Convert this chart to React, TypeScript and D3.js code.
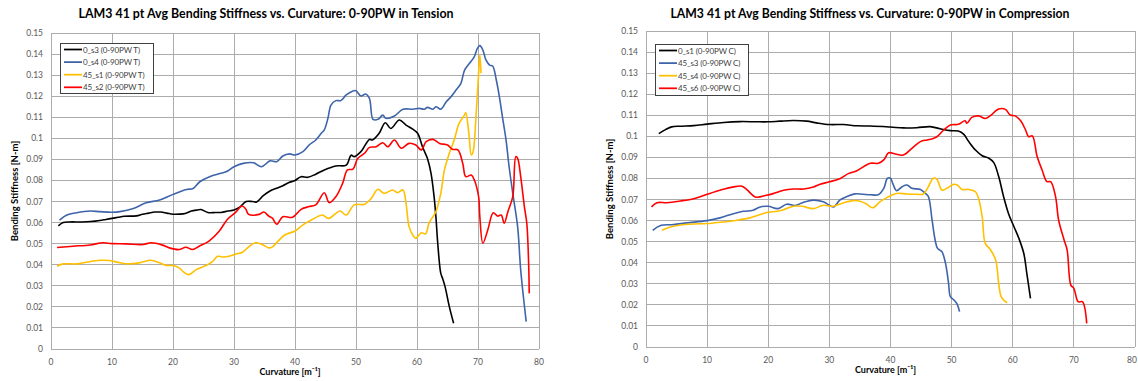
import * as d3 from "d3"

// axis ticks shared by both charts
const xTicks = [0, 10, 20, 30, 40, 50, 60, 70, 80]
const yTicks = [0, 0.01, 0.02, 0.03, 0.04, 0.05, 0.06, 0.07, 0.08, 0.09, 0.1, 0.11, 0.12, 0.13, 0.14, 0.15]
const yTickLabels = ["0", "0.01", "0.02", "0.03", "0.04", "0.05", "0.06", "0.07", "0.08", "0.09", "0.1", "0.11", "0.12", "0.13", "0.14", "0.15"]

type Pt = [number, number]

// Tension (left chart)
const t0s3: Pt[] = [[1.2,0.0585],[2,0.060],[3,0.0603],[5,0.0603],[6.5,0.0605],[8,0.061],[9,0.0615],[10,0.062],[11,0.0625],[12,0.063],[14,0.0632],[15,0.064],[16,0.0645],[17,0.065],[18,0.065],[19,0.0645],[20,0.064],[21,0.064],[22,0.0643],[23,0.0655],[24,0.066],[24.6,0.0662],[25.7,0.0648],[27,0.0648],[27.9,0.0648],[29,0.0655],[30,0.066],[31,0.0675],[32,0.070],[33,0.070],[33.7,0.0698],[34.8,0.0728],[35.9,0.075],[37,0.0763],[38,0.0775],[39,0.079],[40,0.080],[41,0.0818],[42.1,0.0815],[43.4,0.083],[44.8,0.085],[46.7,0.0869],[48.4,0.0873],[49.2,0.092],[49.7,0.0913],[50.8,0.0937],[52.2,0.0995],[52.7,0.0992],[53.8,0.1024],[54.8,0.1074],[55.7,0.1047],[57.1,0.1087],[58.2,0.1063],[59.3,0.1044],[60.1,0.1024],[60.9,0.096],[61.7,0.0905],[62.3,0.0834],[62.8,0.0723],[63.1,0.0628],[63.4,0.0502],[63.9,0.0359],[64.2,0.0335],[64.6,0.0296],[65.3,0.0201],[66,0.0122]]
const t0s4: Pt[] = [[1.4,0.0612],[2.6,0.0636],[4.2,0.0647],[6.4,0.0655],[8,0.0652],[10,0.0649],[11.3,0.0652],[13.5,0.0667],[15.6,0.0694],[17.8,0.0707],[20,0.0734],[22.2,0.0757],[23.3,0.0762],[24.4,0.0794],[26,0.0818],[27.7,0.0833],[28.7,0.0841],[30,0.0865],[31.5,0.0881],[33.2,0.0884],[34.5,0.0865],[35.9,0.0893],[37,0.0889],[38,0.0916],[39.1,0.0926],[40,0.0921],[41.3,0.0937],[42.3,0.0968],[43.4,0.0992],[44.3,0.1024],[44.8,0.104],[45.4,0.1095],[45.9,0.1158],[46.7,0.1179],[47.5,0.1179],[48.4,0.1206],[49.5,0.1225],[50,0.1226],[50.8,0.1201],[51.6,0.121],[52.2,0.119],[52.8,0.109],[53.6,0.109],[54.4,0.111],[54.9,0.1095],[56.3,0.1106],[57.7,0.1138],[59.3,0.1138],[60.4,0.1142],[61.2,0.1138],[61.7,0.1147],[62.6,0.1138],[63.1,0.115],[63.9,0.1138],[64.8,0.1174],[65.6,0.1198],[66.4,0.1229],[67.2,0.1261],[67.8,0.1324],[68.6,0.1356],[69.4,0.1388],[69.9,0.1427],[70.3,0.144],[70.8,0.1419],[71.3,0.1372],[71.9,0.1348],[72.4,0.1343],[73,0.1277],[73.5,0.1198],[74,0.1103],[74.6,0.0992],[75.1,0.0865],[75.7,0.0739],[76.5,0.058],[77,0.0375],[77.9,0.013]]
const t45s1: Pt[] = [[1,0.0393],[2,0.0404],[4.2,0.0404],[5.8,0.0412],[8,0.0421],[9.6,0.042],[11.3,0.0409],[12.3,0.0405],[14.5,0.0409],[16.4,0.0421],[17.8,0.0409],[18.9,0.0397],[20,0.0396],[21,0.0385],[21.8,0.0364],[22.6,0.0353],[23.8,0.0377],[25.4,0.0396],[26.5,0.0416],[27.3,0.044],[28.1,0.0437],[29.2,0.044],[30.3,0.0451],[31.4,0.0459],[32.4,0.0485],[33.5,0.0504],[34.6,0.0496],[35.7,0.048],[36.3,0.0485],[37,0.0505],[38.3,0.0541],[40,0.056],[41.3,0.0589],[42.9,0.0616],[44.5,0.0636],[45.5,0.062],[46.7,0.0644],[47.4,0.0655],[48.4,0.0636],[49.7,0.0684],[51.4,0.0687],[52.5,0.0715],[53.6,0.0758],[54.6,0.0739],[56,0.0755],[56.8,0.0742],[57.7,0.0755],[58.2,0.0691],[58.7,0.0581],[59.3,0.0541],[59.8,0.0525],[60.7,0.0552],[61.4,0.0546],[62,0.06],[63.1,0.0652],[63.9,0.0739],[64.5,0.085],[65.3,0.0929],[66.1,0.0992],[66.9,0.1071],[67.8,0.1111],[68,0.1122],[68.5,0.1024],[68.9,0.0921],[69.2,0.0937],[69.7,0.1119],[70.1,0.1309],[70.3,0.1396],[70.5,0.1309]]
const t45s2: Pt[] = [[1,0.0482],[3.6,0.0488],[6.4,0.0494],[8.5,0.0504],[10,0.05],[12.3,0.0499],[15.1,0.0496],[16.4,0.0504],[18.3,0.0493],[19.4,0.048],[21,0.0472],[22.1,0.0483],[23.2,0.0472],[24.3,0.0488],[25.9,0.0512],[27.6,0.056],[28.9,0.0615],[30.3,0.065],[31.3,0.0679],[31.9,0.0666],[32.4,0.0639],[34.1,0.0639],[34.9,0.065],[35.7,0.0631],[36.3,0.0621],[37,0.0592],[38,0.0628],[39.6,0.0625],[41,0.0663],[42.3,0.0676],[43.4,0.0684],[44.8,0.0742],[45.6,0.0695],[46.7,0.0723],[47.8,0.0786],[48.6,0.085],[49.5,0.0854],[50.3,0.0905],[51.4,0.0929],[52.2,0.0957],[53.3,0.096],[54.4,0.0979],[55.2,0.096],[56.3,0.0992],[57.4,0.0953],[58.7,0.0976],[59.8,0.0968],[60.7,0.0945],[61.5,0.0984],[62.6,0.0995],[63.7,0.0976],[65,0.0968],[65.8,0.0948],[66.7,0.0945],[67.5,0.0881],[68,0.0818],[68.9,0.0826],[69.4,0.0802],[70.1,0.0723],[70.3,0.0628],[70.8,0.0502],[71.6,0.0565],[72.5,0.0647],[73.2,0.0631],[73.8,0.0636],[74.3,0.0597],[74.9,0.0652],[75.7,0.0723],[76.2,0.0913],[76.5,0.0905],[77,0.0818],[77.6,0.0676],[78,0.0597],[78.3,0.0407],[78.4,0.0264]]

// Compression (right chart)
const c0s1: Pt[] = [[2.1,0.1013],[3.2,0.1032],[4.2,0.1045],[5.6,0.1048],[7.8,0.1051],[10,0.1058],[12.7,0.1066],[15.4,0.107],[18.1,0.1069],[20,0.1069],[21.9,0.1072],[24.1,0.1075],[26.3,0.1072],[27.9,0.1064],[30,0.1056],[32.3,0.1056],[34.5,0.105],[36.7,0.1049],[40,0.1044],[42.1,0.104],[44.3,0.1041],[46.5,0.1046],[48.1,0.1036],[49.8,0.1027],[51.1,0.1025],[52,0.1009],[52.8,0.0975],[53.9,0.0935],[55,0.0908],[56.1,0.0896],[56.9,0.0875],[57.7,0.0809],[58.5,0.0714],[59.3,0.0634],[60.2,0.0571],[61,0.0516],[61.8,0.0445],[62.3,0.035],[62.9,0.0231]]
const c45s3: Pt[] = [[1.1,0.0554],[2.3,0.0576],[4.5,0.0581],[6.7,0.0589],[10,0.06],[12.1,0.0613],[14.3,0.0633],[15.9,0.0644],[17.5,0.0649],[18.7,0.0665],[20,0.0668],[21.6,0.0657],[23,0.0678],[24.4,0.0672],[25.7,0.0686],[27.4,0.0697],[29,0.0689],[30,0.0673],[30.7,0.0665],[31.7,0.0697],[32.8,0.0713],[34.2,0.0727],[35.5,0.0725],[36.7,0.0723],[38,0.0723],[38.9,0.0753],[39.5,0.0801],[40,0.0801],[40.4,0.0774],[41,0.0742],[41.9,0.0761],[42.7,0.0769],[43.5,0.0753],[44.9,0.0748],[45.7,0.0729],[46.2,0.0714],[46.8,0.0603],[47.3,0.0508],[47.7,0.0468],[48.4,0.0453],[49,0.0397],[49.5,0.0302],[49.8,0.0239],[50.4,0.0223],[50.9,0.0204],[51.3,0.0168]]
const c45s4: Pt[] = [[2.6,0.0554],[4,0.057],[5.6,0.0579],[7.8,0.0584],[10,0.0586],[12.1,0.0592],[14.9,0.0602],[17,0.0613],[18.7,0.0629],[20,0.064],[21.4,0.0644],[22.5,0.0652],[24.1,0.0668],[25.5,0.0668],[27.4,0.0657],[29,0.0673],[30.6,0.0668],[32.3,0.0684],[33.9,0.0695],[35,0.0692],[36,0.068],[37.1,0.0661],[38.3,0.069],[39.4,0.0709],[41,0.0729],[42.7,0.0726],[44.3,0.0725],[45.4,0.0726],[46.2,0.0761],[47,0.0801],[47.6,0.0796],[48.4,0.0745],[49.2,0.0753],[50.3,0.0772],[50.9,0.0769],[51.7,0.0748],[52.8,0.0748],[53.9,0.0737],[54.4,0.0706],[55,0.0619],[55.5,0.0492],[56.3,0.0464],[57.2,0.0413],[57.7,0.0302],[58.1,0.0239],[58.6,0.022],[59.1,0.021]]
const c45s6: Pt[] = [[0.9,0.0665],[1.8,0.0685],[3.4,0.0685],[5.6,0.0693],[7.8,0.0704],[10,0.0725],[12.1,0.0744],[14.3,0.076],[15.7,0.0763],[16.5,0.0747],[17.9,0.0712],[19.7,0.072],[20.8,0.0728],[22.5,0.0744],[24.1,0.075],[25.8,0.075],[27.4,0.076],[28.5,0.0773],[30,0.0784],[31.8,0.08],[33.1,0.0823],[34.5,0.0837],[36.7,0.0872],[38,0.0872],[38.9,0.0888],[39.7,0.0922],[40.8,0.0916],[42.1,0.0911],[43.5,0.0943],[44.9,0.0975],[46,0.0983],[47,0.099],[47.6,0.0998],[48.7,0.103],[49.8,0.1054],[51.1,0.1057],[52.2,0.1074],[52.5,0.1062],[53.3,0.109],[54.4,0.1097],[55.5,0.1085],[56.3,0.1097],[57.7,0.113],[58.8,0.1128],[59.6,0.1101],[60.4,0.1097],[61.3,0.1074],[62.1,0.103],[62.6,0.0998],[63.2,0.1002],[64,0.0903],[64.8,0.084],[65.6,0.0785],[66.2,0.0785],[67,0.0714],[67.5,0.0603],[68.4,0.0508],[68.9,0.046],[69.5,0.0294],[70,0.0278],[70.7,0.0215],[71.4,0.0215],[72.1,0.0112]]

const BLACK = "#000000"
const BLUE = "#3e64aa"
const GOLD = "#ffc000"
const RED = "#ff0000"

const FONT = "Lato, 'Open Sans', sans-serif"
const SVG_W = 1138

interface Series {
  name: string
  color: string
  data: Pt[]
}

interface ChartProps {
  title: string
  titleX: number
  titleW: number
  left: number
  right: number
  top: number
  bottom: number
  series: Series[]
  legend: { x: number; y: number; w: number; h: number }
}

function Chart({ title, titleX, titleW, left, right, top, bottom, series, legend }: ChartProps) {
  const x = d3.scaleLinear().domain([0, 80]).range([left, right])
  const y = d3.scaleLinear().domain([0, 0.15]).range([bottom, top])
  const line = d3.line<Pt>()
    .x(d => x(d[0]))
    .y(d => y(d[1]))
    .curve(d3.curveCatmullRom.alpha(0.5))

  const mid = (left + right) / 2

  return (
    <g fontFamily={FONT}>
      {/* title is centred on the whole chart area, not the plot */}
      <text x={titleX} y={18} textAnchor="middle" fontSize={12.5} fontWeight="bold" fill="#000"
        textLength={titleW} lengthAdjust="spacingAndGlyphs">{title}</text>

      {/* grid */}
      <g stroke="#acacac" strokeWidth={1} shapeRendering="crispEdges">
        {yTicks.map(t => <line key={"h" + t} x1={left} x2={right} y1={y(t)} y2={y(t)} />)}
        {xTicks.map(t => <line key={"v" + t} x1={x(t)} x2={x(t)} y1={top} y2={bottom} />)}
      </g>

      {/* tick labels */}
      <g fontSize={8.5} fill="#595959">
        {yTicks.map((t, i) => (
          <text key={"yl" + t} x={left - 8} y={y(t) + 3} textAnchor="end">{yTickLabels[i]}</text>
        ))}
        {xTicks.map(t => {
          // keep the last label inside the page
          const px = Math.min(x(t), SVG_W - 6)
          return <text key={"xl" + t} x={px} y={bottom + 16} textAnchor="middle">{t}</text>
        })}
      </g>

      {/* axis titles */}
      <text x={mid - 5} y={bottom + 26} textAnchor="middle" fontSize={9} fontWeight="bold" fill="#000">Curvature [m⁻¹]</text>
      <text transform={`translate(${left - 33},${(top + bottom) / 2}) rotate(-90)`} textAnchor="middle" fontSize={9.5} fontWeight="bold" fill="#000">Bending Stiffness [N-m]</text>

      {/* series */}
      {series.map(s => (
        <path key={s.name} d={line(s.data) || ""} fill="none" stroke={s.color} strokeWidth={1.6} strokeLinejoin="round" />
      ))}

      {/* legend */}
      <rect x={legend.x} y={legend.y} width={legend.w} height={legend.h} fill="#fff" stroke="#404040" strokeWidth={1} shapeRendering="crispEdges" />
      {series.map((s, i) => {
        const ly = legend.y + 6.5 + i * 12.6
        return (
          <g key={"lg" + s.name}>
            <line x1={legend.x + 4} x2={legend.x + 22} y1={ly} y2={ly} stroke={s.color} strokeWidth={1.75} />
            <text x={legend.x + 23} y={ly + 3} fontSize={8} letterSpacing={-0.15} fill="#404040">{s.name}</text>
          </g>
        )
      })}
    </g>
  )
}

export default function App() {
  const tension: Series[] = [
    { name: "0_s3 (0-90PW T)", color: BLACK, data: t0s3 },
    { name: "0_s4 (0-90PW T)", color: BLUE, data: t0s4 },
    { name: "45_s1 (0-90PW T)", color: GOLD, data: t45s1 },
    { name: "45_s2 (0-90PW T)", color: RED, data: t45s2 },
  ]
  const compression: Series[] = [
    { name: "0_s1 (0-90PW C)", color: BLACK, data: c0s1 },
    { name: "45_s3 (0-90PW C)", color: BLUE, data: c45s3 },
    { name: "45_s4 (0-90PW C)", color: GOLD, data: c45s4 },
    { name: "45_s6 (0-90PW C)", color: RED, data: c45s6 },
  ]
  return (
    <>
      <style>{"body{margin:0;overflow:hidden}"}</style>
      <svg width={SVG_W} height={381} style={{ display: "block", background: "#fff" }}>
        <Chart
          title="LAM3 41 pt Avg Bending Stiffness vs. Curvature: 0-90PW in Tension"
          titleX={266} titleW={375}
          left={51} right={539} top={33} bottom={349}
          series={tension}
          legend={{ x: 60, y: 43, w: 93, h: 50 }}
        />
        <Chart
          title="LAM3 41 pt Avg Bending Stiffness vs. Curvature: 0-90PW in Compression"
          titleX={870} titleW={399}
          left={646} right={1135} top={31} bottom={347}
          series={compression}
          legend={{ x: 655, y: 44, w: 93, h: 51 }}
        />
      </svg>
    </>
  )
}
